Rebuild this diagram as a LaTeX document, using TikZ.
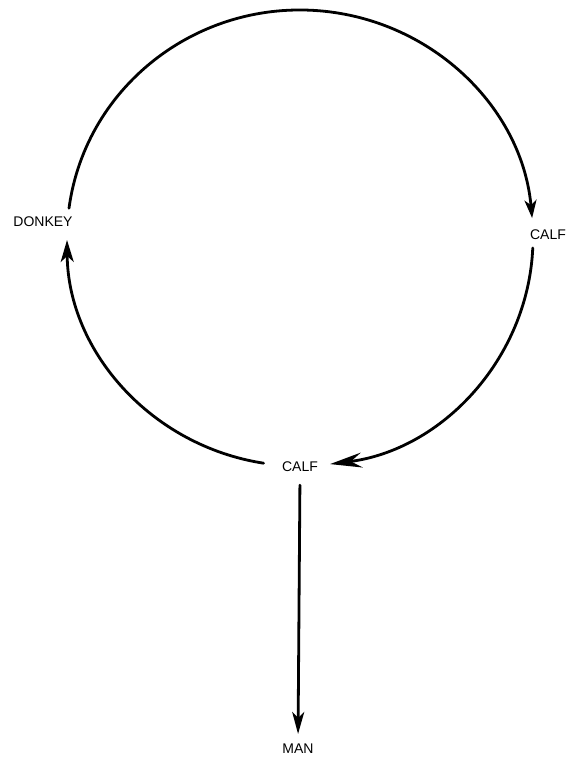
\documentclass[tikz,border=0pt]{standalone}
\usepackage{fontspec}
\setmainfont{Liberation Sans}
\usetikzlibrary{arrows.meta}
\begin{document}
\begin{tikzpicture}[x=1pt,y=1pt,
  lbl/.style={inner sep=2pt, font=\fontsize{14}{16}\selectfont},
  flow/.style={line width=2.8pt, line cap=round}]
\useasboundingbox (0,0) rectangle (566,758);
\coordinate (c) at (300,520);
\node[lbl] (donkey) at (43,536) {DONKEY};
\node[lbl] (calfR) at (548,523) {CALF};
\node[lbl] (calfB) at (300,291) {CALF};
\node[lbl] (man) at (298,9) {MAN};
\coordinate (a1s) at ([shift={(172.5:233 and 228)}]c);
\coordinate (a2s) at ([shift={(-2.5:233 and 228)}]c);
\coordinate (a3s) at ([shift={(-99:233 and 228)}]c);
\draw[flow, -{Stealth[length=18pt,width=12pt,inset=5pt]}] (a1s) arc[start angle=172.5, end angle=5, x radius=233, y radius=228];
\draw[flow, -{Stealth[length=32pt,width=15pt,inset=11pt]}] (a2s) arc[start angle=-2.5, end angle=-82.6, x radius=233, y radius=228];
\draw[flow, -{Stealth[length=22pt,width=13pt,inset=6pt]}] (a3s) arc[start angle=-99, end angle=-179.5, x radius=233, y radius=228];
\draw[flow, -{Stealth[length=22pt,width=12pt,inset=6pt]}, shorten <=11pt, shorten >=8pt] (calfB.south) -- (man.north);
\end{tikzpicture}
\end{document}
